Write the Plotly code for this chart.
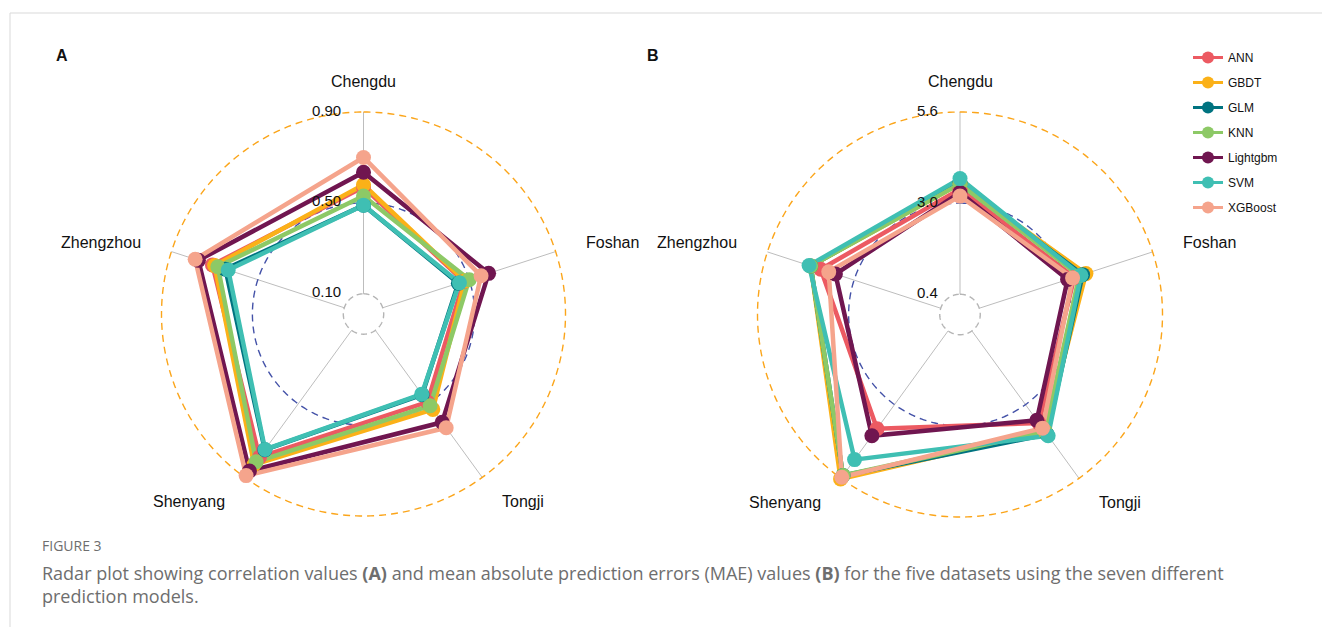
import math
import numpy as np
import plotly.graph_objects as go

# ---- data -------------------------------------------------------------
cities = ["Chengdu", "Foshan", "Tongji", "Shenyang", "Zhengzhou"]
models = ["ANN", "GBDT", "GLM", "KNN", "Lightgbm", "SVM", "XGBoost"]
colors = ["#EC5A62", "#FBB118", "#007380", "#8DC966", "#701650", "#3FBFB3", "#F5A48C"]

# correlation values (panel A), one list per model, in city order
corr_ann = [0.57, 0.475, 0.49, 0.79, 0.71]
corr_gbdt = [0.58, 0.48, 0.53, 0.83, 0.70]
corr_glm = [0.49, 0.45, 0.45, 0.75, 0.65]
corr_knn = [0.53, 0.50, 0.51, 0.815, 0.685]
corr_lgbm = [0.635, 0.59, 0.60, 0.865, 0.775]
corr_svm = [0.49, 0.455, 0.447, 0.748, 0.637]
corr_xgb = [0.70, 0.555, 0.63, 0.89, 0.79]

# mean absolute errors (panel B)
mae_ann = [3.4, 3.25, 3.65, 3.85, 4.0]
mae_gbdt = [3.55, 3.6, 3.95, 5.62, 4.3]
mae_glm = [3.6, 3.5, 4.05, 5.5, 4.3]
mae_knn = [3.55, 3.4, 3.95, 5.5, 4.3]
mae_lgbm = [3.3, 3.05, 3.55, 4.1, 3.56]
mae_svm = [3.7, 3.45, 4.1, 4.94, 4.35]
mae_xgb = [3.2, 3.2, 3.83, 5.56, 3.76]

corr_grid = [0.10, 0.50, 0.90]
corr_grid_labels = ["0.10", "0.50", "0.90"]
mae_grid = [0.4, 3.0, 5.6]
mae_grid_labels = ["0.4", "3.0", "5.6"]

corr_values = [corr_ann, corr_gbdt, corr_glm, corr_knn, corr_lgbm, corr_svm, corr_xgb]
mae_values = [mae_ann, mae_gbdt, mae_glm, mae_knn, mae_lgbm, mae_svm, mae_xgb]

# ---- geometry -----------------------------------------------------------
W, H = 1322, 627
EXT = 1.2                      # plot radius relative to the outer grid circle
angles = [i * 360 / len(cities) for i in range(len(cities))]

panels = [
    dict(name="polar", cx=363.5, cy=314, R=202, grid=corr_grid,
         glabels=corr_grid_labels, values=corr_values, letter="A"),
    dict(name="polar2", cx=960, cy=314.5, R=202.5, grid=mae_grid,
         glabels=mae_grid_labels, values=mae_values, letter="B"),
]

for p in panels:
    gmin, gmax = p["grid"][0], p["grid"][-1]
    p["centre"] = gmin - (gmax - gmin) / 9.0      # radial value at the centre
    p["rmax"] = p["centre"] + EXT * (gmax - p["centre"])


def to_px(p, value, ang):
    d = (value - p["centre"]) / (p["grid"][-1] - p["centre"]) * p["R"]
    a = math.radians(ang)
    return p["cx"] + d * math.sin(a), p["cy"] - d * math.cos(a)


fig = go.Figure()
circle_theta = np.linspace(0, 360, 361)
grid_styles = [("#B5B5B5", "6px,4px"), ("#4452A8", "7px,5px"), ("#FBA51A", "7px,5px")]

annotations = []
for p in panels:
    sub = p["name"]
    gmin, gmax = p["grid"][0], p["grid"][-1]
    # spokes from the inner to the outer grid circle
    for ang in angles:
        fig.add_trace(go.Scatterpolar(
            r=[gmin, gmax], theta=[ang, ang], mode="lines",
            line=dict(color="#BDBDBD", width=1), subplot=sub,
            showlegend=False, hoverinfo="skip"))
    # dashed grid circles
    for gv, (gc, gd) in zip(p["grid"], grid_styles):
        fig.add_trace(go.Scatterpolar(
            r=[gv] * len(circle_theta), theta=circle_theta, mode="lines",
            line=dict(color=gc, width=1.4, dash=gd), subplot=sub,
            showlegend=False, hoverinfo="skip"))
    # closed polygons for each model
    for name, col, vals in zip(models, colors, p["values"]):
        fig.add_trace(go.Scatterpolar(
            r=vals + vals[:1], theta=angles + angles[:1], mode="lines",
            line=dict(color=col, width=4.5), subplot=sub,
            showlegend=False, name=name))
    # points on top of every line
    for name, col, vals in zip(models, colors, p["values"]):
        fig.add_trace(go.Scatterpolar(
            r=vals, theta=angles, mode="markers",
            marker=dict(color=col, size=15), subplot=sub,
            showlegend=False, name=name))

    # grid value labels, right-aligned just left of the vertical spoke
    for gv, gl in zip(p["grid"], p["glabels"]):
        x, y = to_px(p, gv, 0)
        annotations.append(dict(
            x=(x - 0.1 * p["R"]) / W, y=1 - (y - 2) / H, xref="paper", yref="paper",
            text=gl, showarrow=False, xanchor="right", yanchor="middle",
            font=dict(family="Liberation Sans, Arial", size=15, color="#111111")))
    # city labels
    label_r = p["centre"] + 1.15 * (gmax - p["centre"])
    anchors = ["center", "left", "left", "right", "right"]
    for city, ang, xa in zip(cities, angles, anchors):
        x, y = to_px(p, label_r, ang)
        annotations.append(dict(
            x=x / W, y=1 - y / H, xref="paper", yref="paper", text=city,
            showarrow=False, xanchor=xa, yanchor="middle",
            font=dict(family="Liberation Sans, Arial", size=16, color="#111111")))

# legend entries (line + dot)
for name, col in zip(models, colors):
    fig.add_trace(go.Scatterpolar(
        r=[None], theta=[None], mode="lines+markers", name=name,
        line=dict(color=col, width=3), marker=dict(color=col, size=12),
        subplot="polar2", legendgroup=name, showlegend=True))

polar_common = dict(
    bgcolor="rgba(0,0,0,0)",
    angularaxis=dict(visible=False, rotation=90, direction="clockwise",
                     showgrid=False, showline=False, thetaunit="degrees"),
)


def domain(p):
    half = p["R"] * EXT
    return dict(x=[(p["cx"] - half) / W, (p["cx"] + half) / W],
                y=[(H - p["cy"] - half) / H, (H - p["cy"] + half) / H])


layout_polars = {}
for p in panels:
    layout_polars[p["name"]] = dict(
        **polar_common, domain=domain(p),
        radialaxis=dict(visible=False, range=[p["centre"], p["rmax"]],
                        showgrid=False, showline=False))

# panel letters
for p, lx in zip(panels, [62, 653]):
    annotations.append(dict(
        x=lx / W, y=1 - 56 / H, xref="paper", yref="paper", text="<b>%s</b>" % p["letter"],
        showarrow=False, xanchor="center", yanchor="middle",
        font=dict(family="Liberation Sans, Arial", size=16, color="#111111")))

# caption
annotations.append(dict(
    x=40 / W, y=1 - 545 / H, xref="paper", yref="paper", text="FIGURE 3",
    showarrow=False, xanchor="left", yanchor="middle",
    font=dict(family="Open Sans", size=14, color="#6E6E6E")))
annotations.append(dict(
    x=40 / W, y=1 - 584 / H, xref="paper", yref="paper",
    text=("Radar plot showing correlation values <b>(A)</b> and mean absolute prediction "
          "errors (MAE) values <b>(B)</b> for the five datasets using the seven different"
          "<br>prediction models."),
    showarrow=False, xanchor="left", yanchor="middle", align="left",
    font=dict(family="Open Sans", size=18, color="#6E6E6E")))

fig.update_layout(
    width=W, height=H, margin=dict(l=0, r=0, t=0, b=0),
    paper_bgcolor="white", plot_bgcolor="white",
    **layout_polars,
    annotations=annotations,
    showlegend=True,
    legend=dict(x=1188 / W, y=1 - 43 / H, xanchor="left", yanchor="top",
                traceorder="grouped", tracegroupgap=6, bgcolor="rgba(0,0,0,0)",
                font=dict(family="Liberation Sans, Arial", size=12, color="#111111")),
    shapes=[
        dict(type="line", xref="paper", yref="paper", x0=10 / W, x1=1, y0=1 - 13 / H, y1=1 - 13 / H,
             line=dict(color="#D9D9D9", width=1)),
        dict(type="line", xref="paper", yref="paper", x0=10 / W, x1=10 / W, y0=0, y1=1 - 13 / H,
             line=dict(color="#D9D9D9", width=1)),
    ],
)

fig.write_html("out.html")
